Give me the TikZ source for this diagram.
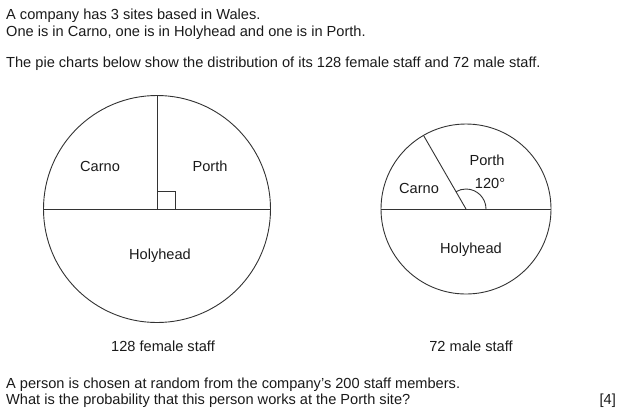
\documentclass[tikz,border=0pt]{standalone}
\usepackage{fontspec}
\setmainfont{Liberation Sans}
\definecolor{ink}{HTML}{1A1A1A}
\definecolor{linec}{HTML}{333333}
\begin{document}
\begin{tikzpicture}[x=1pt,y=-1pt,
  txt/.style={inner sep=0pt,anchor=base west,text=ink,font=\fontsize{14.6}{17}\selectfont},
  lbl/.style={inner sep=0pt,anchor=base,text=ink,font=\fontsize{14.6}{17}\selectfont},
  pieline/.style={draw=linec,line width=0.9pt}]
\useasboundingbox (0,0) rectangle (620,416);
% header text
\node[txt] (t1) at (6,19) {A company has 3 sites based in Wales.};
\node[txt] (t2) at (6,36) {One is in Carno, one is in Holyhead and one is in Porth.};
\node[txt] (t3) at (6,67) {The pie charts below show the distribution of its 128 female staff and 72 male staff.};
% left pie
\coordinate (lc) at (157,209);
\draw[pieline] (lc) circle[radius=113.5];
\draw[pieline] ([xshift=-113.5pt]lc) -- ([xshift=113.5pt]lc);
\draw[pieline] (lc) -- ([yshift=113.5pt]lc);
\draw[pieline] ([yshift=18pt]lc) -| ([xshift=18pt]lc);
\node[lbl] (lcarno) at (100,171) {Carno};
\node[lbl] (lporth) at (210,171) {Porth};
\node[lbl] (lholy) at (160,259) {Holyhead};
\node[lbl] (lcap) at (163,351) {128 female staff};
% right pie
\coordinate (rc) at (466,209);
\draw[pieline] (rc) circle[radius=85];
\draw[pieline] ([xshift=-85pt]rc) -- ([xshift=85pt]rc);
\draw[pieline] (rc) -- ++(-120:85);
\draw[pieline] ([xshift=20pt]rc) arc[start angle=0,end angle=-120,radius=20];
\node[lbl] (rporth) at (487,165) {Porth};
\node[lbl] (rang) at (490,188) {120°};
\node[lbl] (rcarno) at (419,193) {Carno};
\node[lbl] (rholy) at (471,253) {Holyhead};
\node[lbl] (rcap) at (471,351) {72 male staff};
% question
\node[txt] (q1) at (6,388) {A person is chosen at random from the company’s 200 staff members.};
\node[txt] (q2) at (6,404) {What is the probability that this person works at the Porth site?};
\node[txt,anchor=base east] (mk) at (616,404) {[4]};
\end{tikzpicture}
\end{document}
